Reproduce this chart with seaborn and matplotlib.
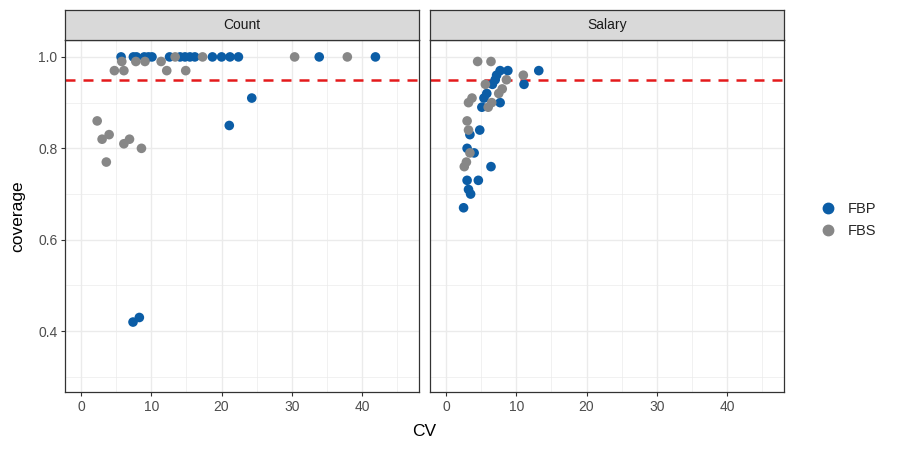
import numpy as np
import pandas as pd
import matplotlib
matplotlib.use("Agg")
import matplotlib.pyplot as plt
import seaborn as sns
from matplotlib.lines import Line2D
from matplotlib.ticker import MultipleLocator

# dados
count_fbp_cv = [5.7, 7.45, 7.9, 9.0, 9.6, 10.1, 12.6, 14.1, 14.8, 15.5, 16.2, 18.7, 20.0, 21.2,
                22.4, 33.9, 41.9, 24.3, 21.1, 7.4, 8.3]
count_fbp_cov = [1.0, 1.0, 1.0, 1.0, 1.0, 1.0, 1.0, 1.0, 1.0, 1.0, 1.0, 1.0, 1.0, 1.0,
                 1.0, 1.0, 1.0, 0.91, 0.85, 0.42, 0.43]
count_fbs_cv = [5.8, 4.75, 6.1, 7.8, 9.1, 11.4, 12.2, 13.4, 14.9, 17.3, 30.4, 37.9,
                2.3, 3.0, 4.0, 3.6, 6.1, 6.9, 8.6]
count_fbs_cov = [0.99, 0.97, 0.97, 0.99, 0.99, 0.99, 0.97, 1.0, 0.97, 1.0, 1.0, 1.0,
                 0.86, 0.82, 0.83, 0.77, 0.81, 0.82, 0.80]
salary_fbp_cv = [7.7, 8.8, 7.2, 13.2, 11.1, 6.6, 5.4, 5.8, 7.0, 7.7, 5.1, 4.8, 3.4, 3.0,
                 4.0, 6.4, 3.0, 4.6, 3.2, 3.5, 2.5]
salary_fbp_cov = [0.97, 0.97, 0.96, 0.97, 0.94, 0.94, 0.91, 0.92, 0.95, 0.90, 0.89, 0.84, 0.83, 0.80,
                  0.79, 0.76, 0.73, 0.73, 0.71, 0.70, 0.67]
salary_fbs_cv = [4.5, 6.4, 11.0, 8.6, 5.6, 8.0, 7.5, 3.7, 6.5, 3.2, 6.0, 3.0, 3.2, 3.4, 2.9, 2.6]
salary_fbs_cov = [0.99, 0.99, 0.96, 0.95, 0.94, 0.93, 0.92, 0.91, 0.90, 0.90, 0.89, 0.86, 0.84,
                  0.79, 0.77, 0.76]
panels = ["Count", "Salary"]
methods = ["FBP", "FBS"]
target = 0.95

frames = []
for panel, method, cv, cov in [
    ("Count", "FBP", count_fbp_cv, count_fbp_cov),
    ("Count", "FBS", count_fbs_cv, count_fbs_cov),
    ("Salary", "FBP", salary_fbp_cv, salary_fbp_cov),
    ("Salary", "FBS", salary_fbs_cv, salary_fbs_cov),
]:
    frames.append(pd.DataFrame({"panel": panel, "method": method, "CV": cv, "coverage": cov}))
df = pd.concat(frames, ignore_index=True)

palette = {"FBP": "#0B5DA6", "FBS": "#878787"}
sns.set_style("white")
plt.rcParams["font.family"] = ["Liberation Sans", "DejaVu Sans"]

fig = plt.figure(figsize=(9, 4.5), dpi=100)
W, H = 900, 450
lefts = [65, 430]
pw = 354
top, bottom = 40, 392

for i, panel in enumerate(panels):
    ax = fig.add_axes([lefts[i] / W, (H - bottom) / H, pw / W, (bottom - top) / H])
    sub = df[df["panel"] == panel]
    ax.xaxis.set_major_locator(MultipleLocator(10))
    ax.xaxis.set_minor_locator(MultipleLocator(5))
    ax.yaxis.set_major_locator(MultipleLocator(0.2))
    ax.yaxis.set_minor_locator(MultipleLocator(0.1))
    ax.grid(True, which="major", color="#EBEBEB", lw=1.0)
    ax.grid(True, which="minor", color="#EBEBEB", lw=0.5)
    ax.set_axisbelow(True)
    ax.axhline(target, color="#E41A1C", lw=1.8, ls=(0, (4, 3.2)), zorder=1)
    sns.scatterplot(data=sub, x="CV", y="coverage", hue="method", hue_order=methods,
                    palette=palette, s=48, linewidth=0, legend=False, ax=ax, zorder=3)
    ax.set_xlim(-2.28, 48.1)
    ax.set_ylim(0.267, 1.037)
    ax.set_xlabel("")
    ax.set_ylabel("")
    for sp in ax.spines.values():
        sp.set_color("#333333")
        sp.set_linewidth(0.9)
    ax.tick_params(which="major", length=3, width=0.8, color="#333333", pad=2.5,
                   labelsize=10, labelcolor="#4D4D4D", left=True, bottom=True)
    ax.tick_params(which="minor", length=0)
    ax.xaxis.set_major_formatter(matplotlib.ticker.FuncFormatter(lambda v, p: f"{v:.0f}"))
    ax.yaxis.set_major_formatter(matplotlib.ticker.FuncFormatter(lambda v, p: f"{v:.1f}"))
    if i == 1:
        ax.tick_params(axis="y", which="major", left=False, labelleft=False)

    # faixa do titulo do painel
    sax = fig.add_axes([lefts[i] / W, (H - top) / H, pw / W, 30 / H])
    sax.set_facecolor("#D9D9D9")
    sax.set_xticks([])
    sax.set_yticks([])
    for sp in sax.spines.values():
        sp.set_color("#333333")
        sp.set_linewidth(0.9)
    sax.text(0.5, 0.5, panel, ha="center", va="center", fontsize=10, color="#1A1A1A",
             transform=sax.transAxes)

fig.text(18 / W, (H - 216) / H, "coverage", rotation=90, ha="center", va="center",
         fontsize=12.5, color="black")
fig.text(424 / W, (H - 431) / H, "CV", ha="center", va="center", fontsize=12.5, color="black")

handles = [Line2D([], [], marker="o", ls="", color=palette[m], markersize=7.5) for m in methods]
fig.legend(handles, methods, loc="center left", bbox_to_anchor=(808 / W, (H - 220) / H),
           frameon=False, fontsize=10.5, handletextpad=0.3, labelspacing=0.5, borderaxespad=0)

fig.savefig("out.png", dpi=100)
plt.close(fig)
